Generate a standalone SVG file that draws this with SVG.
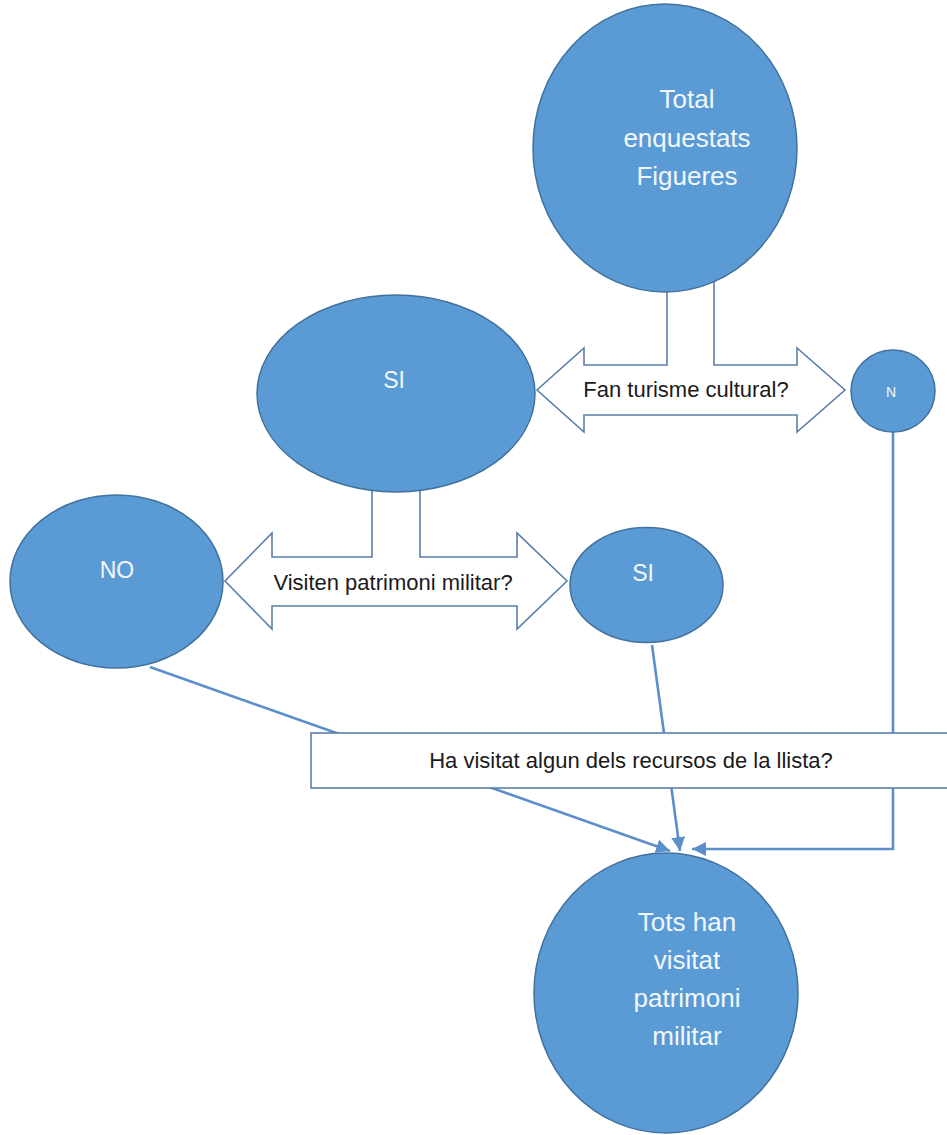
<svg xmlns="http://www.w3.org/2000/svg" width="947" height="1135" viewBox="0 0 947 1135">
<style>
.node{fill:#5B9BD5;stroke:#41719C;stroke-width:1.5}
.blk{fill:#FFFFFF;stroke:#5A7FA8;stroke-width:1.6;stroke-linejoin:miter}
.ln{fill:none;stroke:#5B8FCB;stroke-width:2.6}
.box{fill:#FFFFFF;stroke:#5A7FA8;stroke-width:1.6}
.wt{fill:#F2F7FC;font-family:"Liberation Sans",Arial,sans-serif;text-anchor:middle}
.bt{fill:#1A1A1A;font-family:"Liberation Sans",Arial,sans-serif;text-anchor:middle;font-size:22px}
</style>
<defs>
<marker id="ah" markerUnits="userSpaceOnUse" markerWidth="16" markerHeight="14" refX="14" refY="7" orient="auto">
<path d="M0,0 L14,7 L0,14 Z" fill="#5B8FCB"/>
</marker>
</defs>
<rect width="947" height="1135" fill="#FFFFFF"/>
<g id="connectors">
<path id="arrow-top" class="blk" d="M667,280 L667,365 L584,365 L584,348 L537,390 L584,432 L584,415 L797,415 L797,432 L845,390 L797,348 L797,365 L714,365 L714,280"/>
<path id="arrow-mid" class="blk" d="M372,480 L372,557 L272,557 L272,533 L225,581 L272,629 L272,606 L517,606 L517,629 L567,581 L517,533 L517,557 L420,557 L420,480"/>
<line class="ln" x1="150" y1="667" x2="670" y2="851" marker-end="url(#ah)"/>
<line class="ln" x1="652" y1="645" x2="680" y2="851" marker-end="url(#ah)"/>
<polyline class="ln" points="893,432 893,849 692,849" marker-end="url(#ah)"/>
</g>
<g id="label-top"><text class="bt" x="686" y="397">Fan turisme cultural?</text></g>
<g id="label-mid"><text class="bt" x="393" y="590">Visiten patrimoni militar?</text></g>
<g id="n-total">
<ellipse class="node" cx="665" cy="148" rx="132" ry="144"/>
<text class="wt" font-size="26" x="687" y="108">Total</text>
<text class="wt" font-size="26" x="687" y="147">enquestats</text>
<text class="wt" font-size="26" x="687" y="185">Figueres</text>
</g>
<g id="n-si1">
<ellipse class="node" cx="396" cy="393.5" rx="139" ry="98.5"/>
<text class="wt" font-size="23" x="394" y="388">SI</text>
</g>
<g id="n-n">
<ellipse class="node" cx="893" cy="391" rx="42" ry="41"/>
<text class="wt" font-size="14" x="891" y="397">N</text>
</g>
<g id="n-no">
<ellipse class="node" cx="116.5" cy="581.5" rx="106.5" ry="86.5"/>
<text class="wt" font-size="23" x="117" y="578">NO</text>
</g>
<g id="n-si2">
<ellipse class="node" cx="646.5" cy="585" rx="76.5" ry="57.5"/>
<text class="wt" font-size="23" x="643" y="581">SI</text>
</g>
<g id="n-box">
<rect class="box" x="311" y="733" width="640" height="55"/>
<text class="bt" x="631" y="768">Ha visitat algun dels recursos de la llista?</text>
</g>
<g id="n-tots">
<ellipse class="node" cx="666" cy="993" rx="132" ry="140"/>
<text class="wt" font-size="26" x="687" y="931">Tots han</text>
<text class="wt" font-size="26" x="687" y="969">visitat</text>
<text class="wt" font-size="26" x="687" y="1007">patrimoni</text>
<text class="wt" font-size="26" x="687" y="1045">militar</text>
</g>
</svg>
